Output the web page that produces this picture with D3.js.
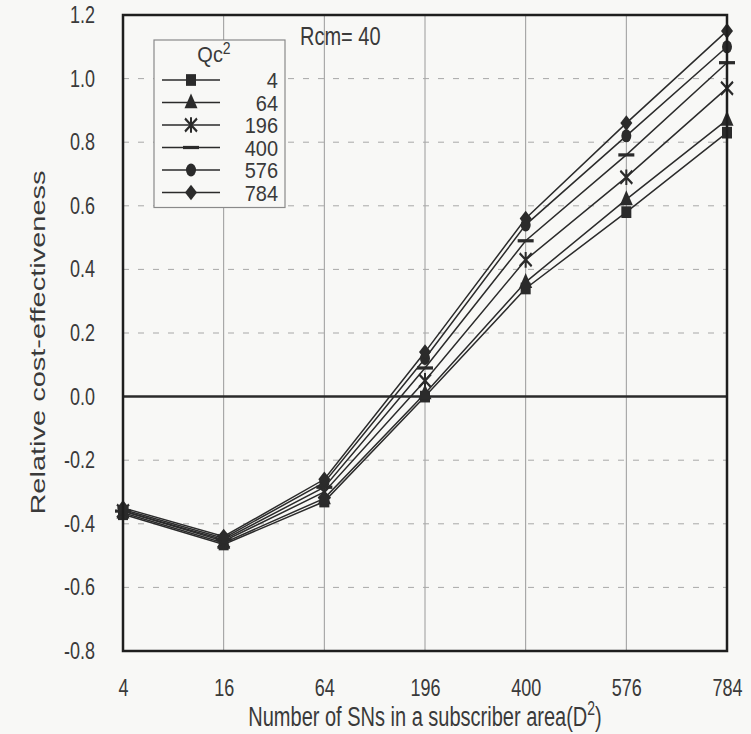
<!DOCTYPE html>
<html>
<head>
<meta charset="utf-8">
<script src="https://cdn.jsdelivr.net/npm/d3@7"></script>
<style>
	html, body { margin: 0; padding: 0; background: #f8f8f6; }
	svg { display: block; font-family: "Liberation Sans", Arial, sans-serif; }
</style>
</head>
<body>
<div id="chart"></div>
<script>
const categories = ['4', '16', '64', '196', '400', '576', '784'];
const y_ticks = [1.2, 1.0, 0.8, 0.6, 0.4, 0.2, 0.0, -0.2, -0.4, -0.6, -0.8];
const series_names = ['4', '64', '196', '400', '576', '784'];
const series_symbols = ['square', 'triangle', 'star', 'bar', 'circle', 'diamond'];

// relative cost-effectiveness per Qc^2, one value per category
const qc4   = [-0.37, -0.465, -0.33, 0.00, 0.34, 0.58, 0.83];
const qc64  = [-0.365, -0.46, -0.32, 0.01, 0.36, 0.62, 0.87];
const qc196 = [-0.36, -0.455, -0.30, 0.05, 0.43, 0.69, 0.97];
const qc400 = [-0.36, -0.45, -0.285, 0.09, 0.49, 0.76, 1.05];
const qc576 = [-0.355, -0.445, -0.27, 0.12, 0.54, 0.82, 1.10];
const qc784 = [-0.35, -0.44, -0.26, 0.14, 0.56, 0.86, 1.15];
const series_values = [qc4, qc64, qc196, qc400, qc576, qc784];

const width = 751;
const height = 734;
const margin = { top: 15, right: 24, bottom: 83, left: 123 };
const stretch = 1.3; // the scan is taller than it is wide

const svg = d3.select('#chart').append('svg')
	.attr('width', width)
	.attr('height', height);

const x = d3.scalePoint()
	.domain(categories)
	.range([margin.left, width - margin.right]);

const y = d3.scaleLinear()
	.domain([-0.8, 1.2])
	.range([height - margin.bottom, margin.top]);

const ink = '#2b2b2b';
const text_colour = '#3a3a3a';
const fmt = d => d3.format('.1f')(d).replace('\u2212', '-');

// text that is stretched vertically like the scan
const label = (parent, tx, ty, size, anchor, s = stretch) => parent.append('g')
	.attr('transform', `translate(${tx},${ty}) scale(1,${s})`)
	.append('text')
	.attr('text-anchor', anchor)
	.attr('font-size', size)
	.attr('fill', text_colour);

// grid
svg.append('g')
	.selectAll('line')
	.data(categories.slice(1, -1))
	.enter()
	.append('line')
	.attr('x1', d => x(d))
	.attr('x2', d => x(d))
	.attr('y1', y(1.2))
	.attr('y2', y(-0.8))
	.style('stroke', '#9a9a9a')
	.style('stroke-width', 1);

svg.append('g')
	.selectAll('line')
	.data(y_ticks.filter(t => t != 0 && t != 1.2 && t != -0.8))
	.enter()
	.append('line')
	.attr('x1', x('4'))
	.attr('x2', x('784'))
	.attr('y1', d => y(d))
	.attr('y2', d => y(d))
	.style('stroke', '#a8a8a8')
	.style('stroke-width', 1)
	.style('stroke-dasharray', '6,9');

// zero line
svg.append('line')
	.attr('x1', x('4'))
	.attr('x2', x('784'))
	.attr('y1', y(0))
	.attr('y2', y(0))
	.style('stroke', ink)
	.style('stroke-width', 2.5);

// axes (labels only, the frame is drawn as a rect)
const y_axis = svg.append('g')
	.attr('transform', `translate(${margin.left},0)`)
	.call(d3.axisLeft(y).tickValues(y_ticks).tickFormat(fmt).tickSize(0).tickPadding(28));
y_axis.select('.domain').remove();
y_axis.selectAll('text')
	.attr('font-size', 18)
	.attr('fill', text_colour)
	.attr('font-family', '"Liberation Sans", Arial, sans-serif')
	.attr('transform', `scale(1,${stretch})`);

const x_axis = svg.append('g')
	.attr('transform', `translate(0,${height - margin.bottom})`)
	.call(d3.axisBottom(x).tickSize(0).tickPadding(22));
x_axis.select('.domain').remove();
x_axis.selectAll('text')
	.attr('font-size', 18)
	.attr('fill', text_colour)
	.attr('font-family', '"Liberation Sans", Arial, sans-serif')
	.attr('transform', `scale(1,${stretch})`);

// series lines
const line = d3.line()
	.x((d, i) => x(categories[i]))
	.y(d => y(d));

svg.append('g')
	.selectAll('path')
	.data(series_values)
	.enter()
	.append('path')
	.attr('d', d => line(d))
	.style('fill', 'none')
	.style('stroke', ink)
	.style('stroke-width', 1.5);

const draw_symbol = (g, kind) => {
	if (kind == 'square') {
		g.append('rect').attr('x', -5).attr('y', -4.5).attr('width', 10).attr('height', 9).style('fill', ink);
	} else if (kind == 'triangle') {
		g.append('path').attr('d', 'M0,-7L6.5,4.5L-6.5,4.5Z').style('fill', ink);
	} else if (kind == 'star') {
		g.append('path').attr('d', 'M-6,-5L6,5M-6,5L6,-5M0,-6L0,6')
			.style('stroke', ink).style('stroke-width', 2).style('fill', 'none');
	} else if (kind == 'bar') {
		g.append('path').attr('d', 'M-8,0L8,0').style('stroke', ink).style('stroke-width', 2.5);
	} else if (kind == 'circle') {
		g.append('circle').attr('r', 5).style('fill', ink);
	} else if (kind == 'diamond') {
		g.append('path').attr('d', 'M0,-6L6,0L0,6L-6,0Z').style('fill', ink);
	}
};

series_values.forEach((values, s) => {
	values.forEach((v, i) => {
		const g = svg.append('g').attr('transform', `translate(${x(categories[i])},${y(v)}) scale(1,${stretch})`);
		draw_symbol(g, series_symbols[s]);
	});
});

// frame
svg.append('rect')
	.attr('x', x('4'))
	.attr('y', y(1.2))
	.attr('width', x('784') - x('4'))
	.attr('height', y(-0.8) - y(1.2))
	.style('fill', 'none')
	.style('stroke', '#1e1e1e')
	.style('stroke-width', 2.5);

// legend
const legend = svg.append('g');
const lx = 154, ly = 40, lw = 131, row_h = 22.5;
const first_row = 80;
const legend_stretch = 1.12;
legend.append('rect')
	.attr('x', lx).attr('y', ly)
	.attr('width', lw).attr('height', first_row - ly + row_h * (series_names.length - 1) + 15)
	.style('fill', '#f8f8f6')
	.style('stroke', '#8a8a8a')
	.style('stroke-width', 1.2);

const title = label(legend, lx + 60, 62, 20, 'middle', legend_stretch);
title.append('tspan').text('Qc');
title.append('tspan').attr('font-size', 14).attr('dy', -7).text('2');

series_names.forEach((name, i) => {
	const cy = first_row + i * row_h;
	legend.append('line')
		.attr('x1', lx + 8).attr('x2', lx + 66)
		.attr('y1', cy).attr('y2', cy)
		.style('stroke', ink).style('stroke-width', 1.5);
	const g = legend.append('g').attr('transform', `translate(${lx + 37},${cy}) scale(1,${stretch})`);
	draw_symbol(g, series_symbols[i]);
	label(legend, lx + 124, cy + 8, 20, 'end', legend_stretch).text(name);
});

label(svg, 300, 45, 20, 'start').text('Rcm= 40');

// axis titles
const x_title = label(svg, (x('4') + x('784')) / 2, 726, 20, 'middle', 1.4);
x_title.append('tspan').text('Number of SNs in a subscriber area(D');
x_title.append('tspan').attr('font-size', 14).attr('dy', -8).text('2');
x_title.append('tspan').attr('dy', 8).text(')');

svg.append('g')
	.attr('transform', `translate(45,${y(0.17)}) rotate(-90) scale(1.45,1)`)
	.append('text')
	.attr('text-anchor', 'middle')
	.attr('font-size', 20)
	.attr('fill', text_colour)
	.text('Relative cost-effectiveness');
</script>
</body>
</html>
